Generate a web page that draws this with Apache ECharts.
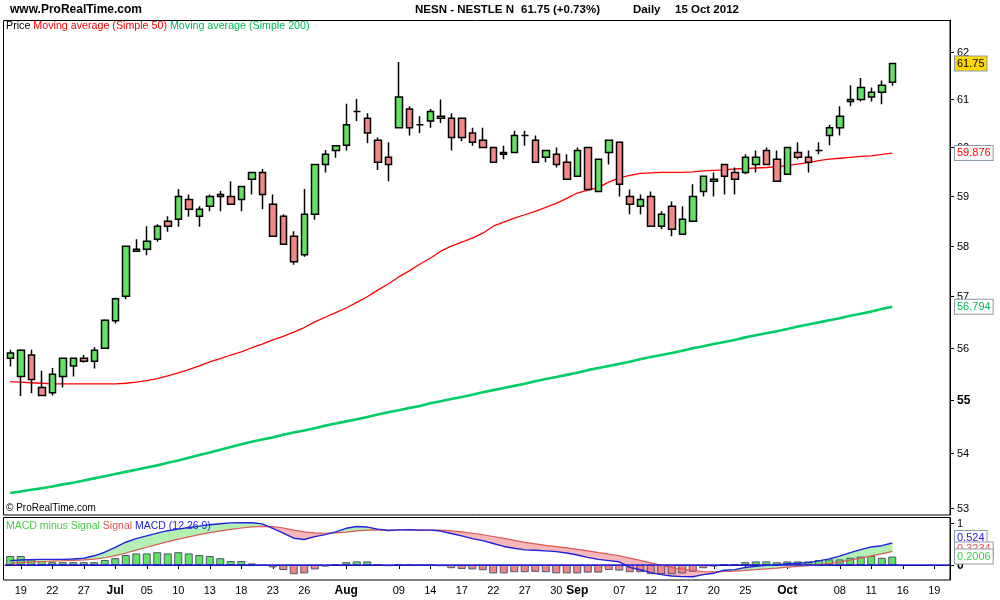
<!DOCTYPE html>
<html><head><meta charset="utf-8">
<script src="https://cdn.jsdelivr.net/npm/echarts@6/dist/echarts.min.js"></script>
<style>html,body{margin:0;padding:0;background:#fff}#c{width:1000px;height:600px}</style>
</head><body><div id="c"></div>
<script>
const dates = ['2012-06-18','2012-06-19','2012-06-20','2012-06-21','2012-06-22','2012-06-25','2012-06-26','2012-06-27','2012-06-28','2012-06-29',
'2012-07-02','2012-07-03','2012-07-04','2012-07-05','2012-07-06','2012-07-09','2012-07-10','2012-07-11','2012-07-12','2012-07-13','2012-07-16','2012-07-17','2012-07-18','2012-07-19','2012-07-20','2012-07-23','2012-07-24','2012-07-25','2012-07-26','2012-07-27','2012-07-30','2012-07-31',
'2012-08-02','2012-08-03','2012-08-06','2012-08-07','2012-08-08','2012-08-09','2012-08-10','2012-08-13','2012-08-14','2012-08-15','2012-08-16','2012-08-17','2012-08-20','2012-08-21','2012-08-22','2012-08-23','2012-08-24','2012-08-27','2012-08-28','2012-08-29','2012-08-30','2012-08-31',
'2012-09-03','2012-09-04','2012-09-05','2012-09-06','2012-09-07','2012-09-10','2012-09-11','2012-09-12','2012-09-13','2012-09-14','2012-09-17','2012-09-18','2012-09-19','2012-09-20','2012-09-21','2012-09-24','2012-09-25','2012-09-26','2012-09-27','2012-09-28',
'2012-10-01','2012-10-02','2012-10-03','2012-10-04','2012-10-05','2012-10-08','2012-10-09','2012-10-10','2012-10-11','2012-10-12','2012-10-15',
'2012-10-16','2012-10-17','2012-10-18','2012-10-19','2012-10-22'];

const tickDates = ['2012-06-19','2012-06-22','2012-06-27','2012-07-02','2012-07-05','2012-07-10','2012-07-13','2012-07-18','2012-07-23','2012-07-26','2012-08-02','2012-08-09','2012-08-14','2012-08-17','2012-08-22','2012-08-27','2012-08-30','2012-09-03','2012-09-07','2012-09-12','2012-09-17','2012-09-20','2012-09-25','2012-10-01','2012-10-08','2012-10-11','2012-10-16','2012-10-19'];
const tickLabels = ['19','22','27','Jul','05','10','13','18','23','26','Aug','09','14','17','22','27','30','Sep','07','12','17','20','25','Oct','08','11','16','19'];
const monthLabels = ['Jul','Aug','Sep','Oct'];

const open = [55.80,55.45,55.86,55.24,55.14,55.45,55.65,55.80,55.74,55.99,
56.52,57.00,57.89,57.93,58.13,58.49,58.53,58.93,58.59,58.79,
59.03,58.99,58.93,59.34,59.48,58.83,58.59,58.19,57.82,58.63,
59.64,59.93,60.04,60.74,60.60,60.14,59.79,60.40,60.79,60.46,
60.54,60.64,60.60,60.60,60.29,60.14,59.99,59.89,59.89,60.24,
60.14,59.79,59.85,59.69,59.40,59.99,59.09,59.89,60.10,58.99,
58.79,58.99,58.39,58.79,58.23,58.49,59.09,59.30,59.64,59.48,
59.48,59.64,59.93,59.75,59.44,59.89,59.79,59.93,60.24,60.40,
60.95,60.99,61.04,61.14,61.35];
const high = [55.96,55.97,55.96,55.56,55.61,55.80,55.80,55.86,56.01,56.55,
56.97,58.00,58.13,58.39,58.43,58.59,59.14,59.03,58.79,59.03,
59.10,59.30,59.19,59.48,59.55,59.03,58.63,58.29,59.14,59.64,
59.94,60.03,60.90,61.00,60.70,60.20,60.10,61.78,60.85,60.64,
60.79,60.99,60.70,60.60,60.40,60.40,59.99,60.03,60.34,60.34,
60.24,59.93,59.99,59.85,59.99,59.99,59.75,60.14,60.10,59.13,
59.03,59.09,58.69,58.89,58.79,59.24,59.40,59.48,59.64,59.58,
59.85,59.93,59.99,59.93,59.99,60.10,59.93,60.10,60.46,60.85,
61.29,61.44,61.24,61.39,61.75];
const low = [55.64,55.08,55.13,55.09,55.09,55.24,55.45,55.71,55.60,55.98,
56.47,56.94,57.89,57.81,58.08,58.28,58.38,58.58,58.38,58.69,
58.69,58.83,58.69,59.03,58.73,58.19,58.03,57.62,57.78,58.52,
59.48,59.78,59.93,60.54,60.08,59.53,59.30,60.40,60.24,60.29,
60.40,60.50,59.93,60.12,60.03,59.99,59.69,59.75,59.89,60.03,
59.69,59.69,59.58,59.34,59.40,59.13,59.09,59.64,58.99,58.63,
58.63,58.39,58.33,58.19,58.23,58.49,58.99,58.99,59.03,59.03,
59.44,59.48,59.64,59.30,59.44,59.75,59.48,59.85,60.04,60.24,
60.85,60.95,60.95,60.89,61.28];
const close = [55.90,55.95,55.39,55.09,55.49,55.80,55.80,55.74,55.95,56.53,
56.95,57.99,57.93,58.09,58.39,58.39,58.99,58.73,58.73,58.99,
58.99,58.83,59.19,59.48,59.03,58.19,58.03,57.68,58.63,59.64,
59.85,60.03,60.46,60.74,60.29,59.69,59.64,61.04,60.40,60.46,
60.74,60.60,60.20,60.20,60.10,59.99,59.69,59.85,60.24,60.24,
59.69,59.93,59.64,59.34,59.93,59.13,59.75,60.14,59.24,58.83,
58.93,58.39,58.63,58.33,58.53,58.99,59.40,59.34,59.40,59.34,
59.79,59.79,59.64,59.30,59.99,59.79,59.69,59.93,60.40,60.64,
60.99,61.24,61.14,61.29,61.75];

const ma50 = [55.35,55.34,55.33,55.32,55.31,55.31,55.31,55.31,55.31,55.31,
55.31,55.32,55.34,55.37,55.41,55.46,55.52,55.58,55.65,55.73,
55.79,55.86,55.92,56.00,56.07,56.15,56.22,56.30,56.39,56.50,
56.59,56.68,56.77,56.88,56.99,57.12,57.24,57.38,57.50,57.63,
57.75,57.89,57.99,58.07,58.15,58.25,58.39,58.47,58.55,58.62,
58.69,58.77,58.85,58.95,59.06,59.12,59.17,59.28,59.37,59.42,
59.46,59.47,59.48,59.48,59.48,59.49,59.51,59.52,59.53,59.55,
59.56,59.57,59.58,59.60,59.62,59.65,59.68,59.72,59.75,59.77,
59.79,59.81,59.82,59.85,59.876];
const ma200 = [53.27,53.30,53.33,53.36,53.39,53.43,53.46,53.50,53.54,53.58,
53.62,53.66,53.70,53.74,53.78,53.83,53.87,53.92,53.97,54.02,
54.07,54.12,54.17,54.22,54.26,54.30,54.35,54.39,54.43,54.47,
54.52,54.56,54.60,54.64,54.68,54.73,54.77,54.81,54.85,54.89,
54.94,54.98,55.02,55.06,55.10,55.15,55.19,55.23,55.27,55.31,
55.36,55.40,55.44,55.48,55.52,55.57,55.61,55.65,55.69,55.73,
55.78,55.82,55.86,55.90,55.94,55.99,56.03,56.07,56.11,56.15,
56.20,56.24,56.28,56.32,56.36,56.41,56.45,56.49,56.53,56.57,
56.62,56.66,56.70,56.75,56.794];

const macd = [0.105,0.119,0.128,0.133,0.133,0.133,0.143,0.162,0.219,0.304,
0.418,0.542,0.627,0.694,0.76,0.817,0.855,0.893,0.926,0.96,
0.983,1.002,1.007,1.007,0.979,0.874,0.76,0.637,0.608,0.675,
0.722,0.789,0.874,0.917,0.903,0.855,0.822,0.836,0.841,0.831,
0.831,0.808,0.751,0.694,0.627,0.58,0.513,0.442,0.399,0.361,
0.352,0.337,0.318,0.285,0.238,0.181,0.133,0.105,0.076,-0.057,
-0.114,-0.181,-0.228,-0.261,-0.276,-0.28,-0.23,-0.195,-0.125,-0.11,
-0.06,-0.033,-0.008,0.0,0.03,0.042,0.056,0.097,0.145,0.21,
0.296,0.366,0.43,0.46,0.524];
const signal = [0.04,0.056,0.07,0.083,0.093,0.101,0.109,0.12,0.14,0.173,
0.222,0.286,0.354,0.422,0.49,0.555,0.615,0.671,0.722,0.77,
0.812,0.85,0.881,0.906,0.921,0.912,0.881,0.832,0.787,0.765,
0.756,0.763,0.785,0.811,0.83,0.835,0.832,0.833,0.834,0.833,
0.833,0.828,0.812,0.789,0.756,0.721,0.679,0.632,0.585,0.54,
0.502,0.469,0.439,0.408,0.374,0.335,0.295,0.257,0.221,0.165,
0.109,0.051,-0.005,-0.056,-0.1,-0.136,-0.155,-0.163,-0.155,-0.146,
-0.129,-0.11,-0.09,-0.072,-0.052,-0.033,-0.015,0.007,0.035,0.07,
0.115,0.165,0.218,0.266,0.3234];
const hist = [0.214,0.214,0.133,0.095,0.067,0.067,0.067,0.067,0.067,0.119,
0.162,0.238,0.276,0.276,0.304,0.276,0.304,0.276,0.238,0.214,
0.162,0.095,0.095,0.038,-0.01,-0.057,-0.119,-0.219,-0.2,-0.105,
-0.038,0.024,0.067,0.086,0.086,0.019,-0.029,0.024,0.005,-0.005,
0.002,-0.029,-0.076,-0.095,-0.105,-0.124,-0.2,-0.2,-0.171,-0.171,
-0.162,-0.171,-0.2,-0.2,-0.2,-0.181,-0.181,-0.119,-0.133,-0.171,
-0.171,-0.219,-0.219,-0.219,-0.2,-0.162,-0.076,-0.038,0.024,0.024,
0.067,0.086,0.086,0.067,0.086,0.086,0.086,0.119,0.133,0.133,
0.171,0.2,0.214,0.171,0.2006];

const priceTicks = [53,54,55,56,57,58,59,60,61,62];
const boldPriceTicks = [55];
const macdTicks = [0,1];
const boldMacdTicks = [0];

const FONT = '"Liberation Sans", Arial, sans-serif';
const chart = echarts.init(document.getElementById('c'), null, {renderer:'canvas'});

const candleData = open.map((o,i)=>[o, close[i], low[i], high[i]]);
const fillData = macd.map((m,i)=>[i, m, signal[i]]);
const UP_FILL = '#b4f0b4', DN_FILL = '#f5b7b7';

const option = {
  animation:false,
  backgroundColor:'#fff',
  grid:[
    {left:5, right:50, top:20, height:495, containLabel:false, outerBoundsMode:'none'},
    {left:5, right:50, top:518, height:62, containLabel:false, outerBoundsMode:'none'}
  ],
  xAxis:[
    {type:'category', gridIndex:0, data:dates, boundaryGap:true, show:false},
    {type:'category', gridIndex:1, data:dates, boundaryGap:true,
     axisLine:{show:true, lineStyle:{color:'#000', width:1}},
     axisTick:{show:true, alignWithLabel:true, length:4, lineStyle:{color:'#000'},
       interval:(i,v)=>tickDates.indexOf(v)>=0},
     axisLabel:{show:true, margin:5, color:'#000', fontSize:11, fontFamily:FONT, hideOverlap:false,
       interval:(i,v)=>tickDates.indexOf(v)>=0,
       formatter:(v)=>{const k=tickDates.indexOf(v); if(k<0) return ''; const t=tickLabels[k]; return monthLabels.indexOf(t)>=0 ? '{m|'+t+'}' : t;},
       rich:{m:{fontWeight:'bold', fontSize:12, fontFamily:FONT, color:'#000'}}},
     splitLine:{show:false}}
  ],
  yAxis:[
    {type:'log', logBase:10, gridIndex:0, position:'right', min:52.87, max:62.68,
     axisLine:{show:true, lineStyle:{color:'#000'}}, axisTick:{show:false}, axisLabel:{show:false}, splitLine:{show:false}},
    {type:'value', gridIndex:1, position:'right', min:-0.357, max:1.119,
     axisLine:{show:true, lineStyle:{color:'#000'}}, axisTick:{show:false}, axisLabel:{show:false}, splitLine:{show:false}}
  ],
  series:[
    {name:'MA200', type:'line', xAxisIndex:0, yAxisIndex:0, data:ma200, symbol:'none', z:1,
     lineStyle:{color:'#00cc66', width:2.6}},
    {name:'MA50', type:'line', xAxisIndex:0, yAxisIndex:0, data:ma50, symbol:'none', z:1,
     lineStyle:{color:'#ff0000', width:1.3}},
    {name:'Price', type:'candlestick', xAxisIndex:0, yAxisIndex:0, data:candleData, barWidth:7, z:3,
     itemStyle:{color:'#62e262', color0:'#f28787', borderColor:'#000', borderColor0:'#000', borderColorDoji:'#000', borderWidth:1.5}},
    {name:'MACD minus Signal', type:'bar', xAxisIndex:1, yAxisIndex:1, data:hist, barWidth:8, z:2,
     itemStyle:{color:(p)=>p.value>=0?'#62e262':'#f08585', borderColor:'#1e8c1e', borderWidth:1},
     markLine:{silent:true, symbol:['none','none'], label:{show:false}, data:[{yAxis:0}],
       lineStyle:{color:'#2222dd', width:1.5, type:'solid'}, z:5}},
    {name:'fill', type:'custom', xAxisIndex:1, yAxisIndex:1, data:fillData, z:1,
     encode:{x:0, y:[1,2]},
     renderItem:function(params, api){
       const i = api.value(0);
       if (i >= macd.length-1) return null;
       const m0=macd[i], s0=signal[i], m1=macd[i+1], s1=signal[i+1];
       const A=api.coord([i,m0]), B=api.coord([i+1,m1]), C=api.coord([i+1,s1]), D=api.coord([i,s0]);
       const d0=m0-s0, d1=m1-s1;
       if (d0*d1 < 0) {
         const t=d0/(d0-d1);
         const P=[A[0]+(B[0]-A[0])*t, A[1]+(B[1]-A[1])*t];
         const c0=d0>0?UP_FILL:DN_FILL, c1=d1>0?UP_FILL:DN_FILL;
         return {type:'group', children:[
           {type:'polygon', shape:{points:[A,P,D]}, style:{fill:c0, stroke:c0, lineWidth:0.6}},
           {type:'polygon', shape:{points:[P,B,C]}, style:{fill:c1, stroke:c1, lineWidth:0.6}}
         ]};
       }
       const c=(d0+d1)>=0?UP_FILL:DN_FILL;
       return {type:'polygon', shape:{points:[A,B,C,D]}, style:{fill:c, stroke:c, lineWidth:0.6}};
     }},
    {name:'Signal', type:'line', xAxisIndex:1, yAxisIndex:1, data:signal, symbol:'none', z:3,
     lineStyle:{color:'#e05a5a', width:1.2}},
    {name:'MACD', type:'line', xAxisIndex:1, yAxisIndex:1, data:macd, symbol:'none', z:4,
     lineStyle:{color:'#2222dd', width:1.4}}
  ]
};
option.series[3].itemStyle.borderColor = (p)=>p.value>=0?'#1e8c1e':'#a83030';
chart.setOption(option);

// ---- overlay text, panel borders and axis labels (positions from the chart's own scales)
const g = [];
const T = (text, x, y, extra) => Object.assign({type:'text', z:100, silent:true,
  style:Object.assign({text:text, x:x, y:y, fill:'#000', fontSize:11, fontFamily:FONT, verticalAlign:'middle', align:'left'}, extra||{})});

g.push({type:'rect', z:90, silent:true, shape:{x:3.5, y:20.5, width:946.5, height:494.5}, style:{fill:null, stroke:'#000', lineWidth:1}});
g.push({type:'rect', z:90, silent:true, shape:{x:3.5, y:517.5, width:946.5, height:62.5}, style:{fill:null, stroke:'#000', lineWidth:1}});

g.push(T('www.ProRealTime.com', 10, 10, {fontWeight:'bold', fontSize:12}));
g.push(T('NESN - NESTLE N', 415, 10, {fontWeight:'bold', fontSize:11.5}));
g.push(T('61.75 (+0.73%)', 521, 10, {fontWeight:'bold', fontSize:11.5}));
g.push(T('Daily', 633, 10, {fontWeight:'bold', fontSize:11.5}));
g.push(T('15 Oct 2012', 675, 10, {fontWeight:'bold', fontSize:11.5}));

g.push(T('{k|Price }{r|Moving average (Simple 50) }{g|Moving average (Simple 200)}', 6, 26, {
  rich:{k:{fill:'#000',fontSize:10.7,fontFamily:FONT}, r:{fill:'#ff0000',fontSize:10.7,fontFamily:FONT}, g:{fill:'#00bb55',fontSize:10.7,fontFamily:FONT}}}));
g.push(T('{g|MACD minus Signal }{r|Signal }{b|MACD (12 26 9)}', 6, 526, {
  rich:{g:{fill:'#44cc44',fontSize:10.5,fontFamily:FONT}, r:{fill:'#e05050',fontSize:10.5,fontFamily:FONT}, b:{fill:'#2222dd',fontSize:10.5,fontFamily:FONT}}}));
g.push(T('\u00A9 ProRealTime.com', 6, 508, {fontSize:10}));

priceTicks.forEach(v=>{
  const y = Math.round(chart.convertToPixel({yAxisIndex:0}, v)) + 0.5;
  g.push({type:'line', z:95, silent:true, shape:{x1:950, y1:y, x2:954, y2:y}, style:{stroke:'#000', lineWidth:1}});
  g.push(T(String(v), 957, y, boldPriceTicks.indexOf(v)>=0 ? {fontWeight:'bold', fontSize:12} : {}));
});
macdTicks.forEach(v=>{
  const y = Math.round(chart.convertToPixel({yAxisIndex:1}, v)) + 0.5;
  g.push({type:'line', z:95, silent:true, shape:{x1:950, y1:y, x2:954, y2:y}, style:{stroke:'#000', lineWidth:1}});
  g.push(T(String(v), 957, y, boldMacdTicks.indexOf(v)>=0 ? {fontWeight:'bold', fontSize:12} : {}));
});

const box = (text, y, fill, bg) => T(text, 955, y, {fill:fill, backgroundColor:bg, borderColor:'#8d9bab', borderWidth:1, padding:[2,2,1,2]});
const last = close.length-1;
const yClose = chart.convertToPixel({yAxisIndex:0}, close[last]);
const yMa50 = chart.convertToPixel({yAxisIndex:0}, ma50[last]);
const yMa200 = chart.convertToPixel({yAxisIndex:0}, ma200[last]);
g.push(Object.assign(box(close[last].toFixed(2), yClose, '#000', '#ffd700'), {z:110}));
g.push(Object.assign(box(ma50[last].toFixed(3), yMa50, '#ff0000', '#fff'), {z:110}));
g.push(Object.assign(box(ma200[last].toFixed(3), yMa200, '#00bb55', '#fff'), {z:110}));
const yM = chart.convertToPixel({yAxisIndex:1}, macd[last]);
const yS = chart.convertToPixel({yAxisIndex:1}, signal[last]);
const yH = chart.convertToPixel({yAxisIndex:1}, hist[last]);
g.push(Object.assign(box(String(macd[last]), yM-5, '#2222dd', '#fff'), {z:111}));
g.push(Object.assign(box(String(signal[last]), yS-2, '#e05050', '#fff'), {z:112}));
g.push(Object.assign(box(String(hist[last]), yH, '#44cc44', '#fff'), {z:113}));

chart.setOption({graphic:g});
</script>
</body></html>
